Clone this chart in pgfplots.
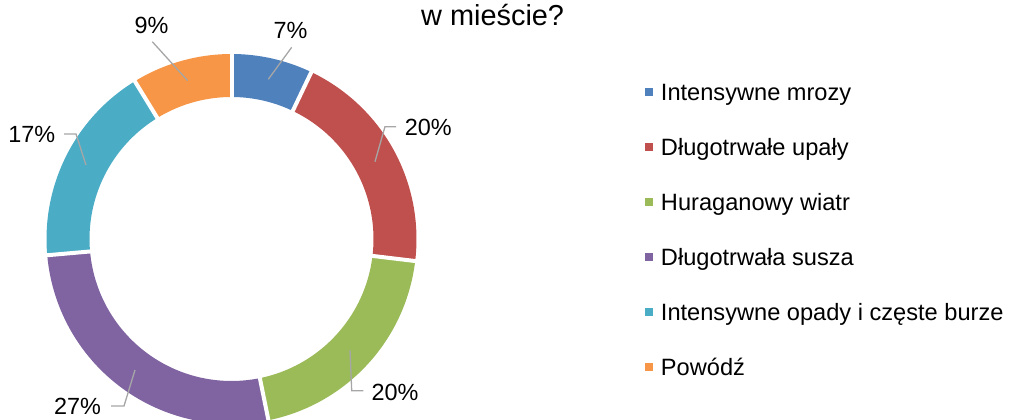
\documentclass[border=0pt]{standalone}
\usepackage{pgfplots}
\pgfplotsset{compat=1.18}
\usepackage{fontspec}
\setmainfont{Liberation Sans}
\definecolor{cBlue}{HTML}{4F81BD}
\definecolor{cRed}{HTML}{C0504D}
\definecolor{cGreen}{HTML}{9BBB59}
\definecolor{cPurple}{HTML}{8064A2}
\definecolor{cAqua}{HTML}{4BACC6}
\definecolor{cOrange}{HTML}{F79646}
\definecolor{cLead}{HTML}{A6A6A6}
\newcommand\cx{231.5}
\newcommand\cy{181}
\newcommand\Ro{185}
\newcommand\Ri{142}
% sector: colour, cumulative start (%), value (%)
\newcommand{\sector}[3]{%
  \addplot[draw=none, fill=#1, domain=0:160, samples=161, variable=\s]
  ({\cx + ifthenelse(\s<80,\Ro,\Ri)*cos(90-3.6*(#2 + #3*ifthenelse(\s<80, min(\s,60)/60, min((160-\s)/60,1))))},
   {\cy + ifthenelse(\s<80,\Ro,\Ri)*sin(90-3.6*(#2 + #3*ifthenelse(\s<80, min(\s,60)/60, min((160-\s)/60,1))))});
}
\newcommand{\gap}[1]{%
  \addplot[white, line width=4bp, forget plot, domain=138:189, samples=2, variable=\r]
  ({\cx + \r*cos(90-3.6*#1)}, {\cy + \r*sin(90-3.6*#1)});
}
\newcommand{\lbl}{\fontsize{23.5}{28}\selectfont}
\begin{document}
\begin{tikzpicture}
\begin{axis}[
  at={(0,0)}, anchor=south west,
  width=1009bp, height=420bp, scale only axis,
  xmin=0, xmax=1009, ymin=0, ymax=420,
  hide axis,
  legend image code/.code={\fill[#1] (0bp,-3.75bp) rectangle (7.5bp,3.75bp);},
  legend cell align=left,
  legend style={at={(0.6397,0.8079)}, anchor=north west, draw=none, fill=none,
    inner sep=0pt, outer sep=0pt, row sep=32bp, column sep=8bp,
    font=\fontsize{23.7}{28}\selectfont,
    nodes={inner sep=0pt, text height=20bp, text depth=3bp}},
]
\sector{cBlue}{0}{7.1}
\addlegendentry{Intensywne mrozy}
\sector{cRed}{7.1}{19.8}
\addlegendentry{Długotrwałe upały}
\sector{cGreen}{26.9}{19.9}
\addlegendentry{Huraganowy wiatr}
\sector{cPurple}{46.8}{26.8}
\addlegendentry{Długotrwała susza}
\sector{cAqua}{73.6}{17.65}
\addlegendentry{Intensywne opady i częste burze}
\sector{cOrange}{91.25}{8.75}
\addlegendentry{Powódź}
\gap{0}\gap{7.1}\gap{26.9}\gap{46.8}\gap{73.6}\gap{91.25}
% leader lines
\draw[cLead, line width=1.3bp] (axis cs:291.7,372.7) -- (axis cs:268.3,340.7);
\draw[cLead, line width=1.3bp] (axis cs:152.3,378.3) -- (axis cs:187.7,339.3);
\draw[cLead, line width=1.3bp] (axis cs:396,293.3) -- (axis cs:385,293.3) -- (axis cs:375,258.3);
\draw[cLead, line width=1.3bp] (axis cs:350,70) -- (axis cs:351.7,29.3) -- (axis cs:363.3,29.3);
\draw[cLead, line width=1.3bp] (axis cs:135,50) -- (axis cs:124,14) -- (axis cs:111,14);
\draw[cLead, line width=1.3bp] (axis cs:64,286) -- (axis cs:76,286) -- (axis cs:86,255);
% labels
\node[inner sep=0pt, font=\lbl] at (axis cs:290.5,390) {7\%};
\node[inner sep=0pt, font=\lbl] at (axis cs:151.5,394.7) {9\%};
\node[inner sep=0pt, font=\lbl] at (axis cs:428.3,292.2) {20\%};
\node[inner sep=0pt, font=\lbl] at (axis cs:395,28) {20\%};
\node[inner sep=0pt, font=\lbl] at (axis cs:77.5,14) {27\%};
\node[inner sep=0pt, font=\lbl] at (axis cs:31.7,285.5) {17\%};
\node[anchor=base west, inner sep=0pt, font=\fontsize{29}{34}\selectfont] at (axis cs:421,394) {w mieście?};
\end{axis}
\pgfresetboundingbox
\path[use as bounding box] (0,0) rectangle (1009bp,420bp);
\end{tikzpicture}
\end{document}
